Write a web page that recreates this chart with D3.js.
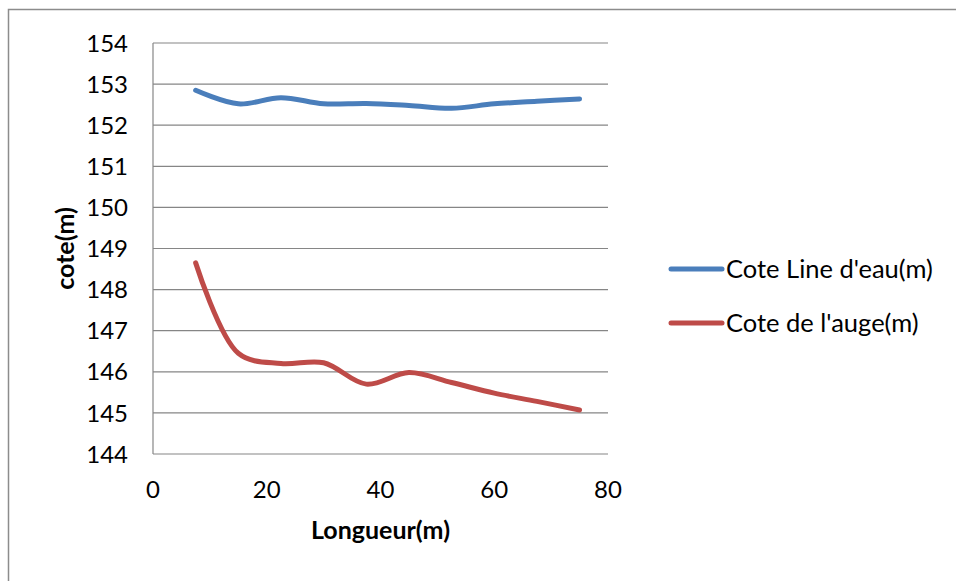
<!DOCTYPE html>
<html>
<head>
<meta charset="utf-8">
<script src="https://cdn.jsdelivr.net/npm/d3@7"></script>
<style>
  body { margin: 0; background: #fff; }
  text { font-family: Lato, "Liberation Sans", Arial, sans-serif; fill: #000; }
</style>
</head>
<body>
<svg id="chart" width="956" height="581"></svg>
<script>

const longueur = [7.5, 15, 22.5, 30, 37.5, 45, 52.5, 60, 67.5, 75];
const coteEau = [152.85, 152.52, 152.67, 152.52, 152.53, 152.48, 152.41, 152.52, 152.58, 152.64];
const coteAuge = [148.65, 146.45, 146.2, 146.22, 145.7, 145.98, 145.74, 145.48, 145.28, 145.07];
const seriesNames = ["Cote Line d'eau(m)", "Cote de l'auge(m)"];
const seriesColors = ["#4a7ebb", "#be4b48"];
const xTicks = [0, 20, 40, 60, 80];
const yTicks = [144, 145, 146, 147, 148, 149, 150, 151, 152, 153, 154];

const svg = d3.select("#chart");
const plotL = 153, plotR = 608, plotT = 43, plotB = 454;

// outer frame of the chart area (runs off the page on right/bottom)
svg.append("rect")
  .attr("x", 8.5).attr("y", 9.5)
  .attr("width", 1000).attr("height", 1000)
  .attr("fill", "none")
  .attr("stroke", "#8c8c8c")
  .attr("stroke-width", 1.5);

const x = d3.scaleLinear().domain([0, 80]).range([plotL, plotR]);
const y = d3.scaleLinear().domain([144, 154]).range([plotB, plotT]);

// horizontal gridlines
svg.append("g").selectAll("line").data(yTicks).enter()
  .append("line")
  .attr("x1", plotL).attr("x2", plotR)
  .attr("y1", d => y(d)).attr("y2", d => y(d))
  .attr("stroke", "#868686")
  .attr("stroke-width", 1.2);

// y axis line
svg.append("line")
  .attr("x1", plotL).attr("x2", plotL)
  .attr("y1", plotT).attr("y2", plotB)
  .attr("stroke", "#868686")
  .attr("stroke-width", 1.2);

// tick labels
svg.append("g").selectAll("text").data(yTicks).enter()
  .append("text")
  .attr("x", 128).attr("y", d => y(d))
  .attr("dy", "0.36em")
  .attr("text-anchor", "end")
  .style("font-size", "24px")
  .text(d => d);

svg.append("g").selectAll("text").data(xTicks).enter()
  .append("text")
  .attr("x", d => x(d)).attr("y", 489)
  .attr("dy", "0.36em")
  .attr("text-anchor", "middle")
  .style("font-size", "24px")
  .text(d => d);

// axis titles
svg.append("text")
  .attr("x", (plotL + plotR) / 2).attr("y", 530)
  .attr("dy", "0.36em")
  .attr("text-anchor", "middle")
  .style("font-size", "25px")
  .style("font-weight", "bold")
  .text("Longueur(m)");

svg.append("text")
  .attr("transform", "translate(65," + (plotT + plotB) / 2 + ") rotate(-90)")
  .attr("dy", "0.36em")
  .attr("text-anchor", "middle")
  .style("font-size", "25px")
  .style("font-weight", "bold")
  .text("cote(m)");

// smoothed lines
const line = d3.line()
  .x(d => x(d[0]))
  .y(d => y(d[1]))
  .curve(d3.curveCatmullRom.alpha(0.5));

[coteEau, coteAuge].forEach((vals, i) => {
  svg.append("path")
    .datum(longueur.map((l, j) => [l, vals[j]]))
    .attr("d", line)
    .attr("fill", "none")
    .attr("stroke", seriesColors[i])
    .attr("stroke-width", 5)
    .attr("stroke-linecap", "round");
});

// legend
const legend = svg.append("g");
const legY = [269, 323];
seriesNames.forEach((name, i) => {
  legend.append("line")
    .attr("x1", 671).attr("x2", 722)
    .attr("y1", legY[i]).attr("y2", legY[i])
    .attr("stroke", seriesColors[i])
    .attr("stroke-width", 5)
    .attr("stroke-linecap", "round");
  legend.append("text")
    .attr("x", 726).attr("y", legY[i])
    .attr("dy", "0.36em")
    .style("font-size", "25.5px")
    .text(name);
});

</script>
</body>
</html>
